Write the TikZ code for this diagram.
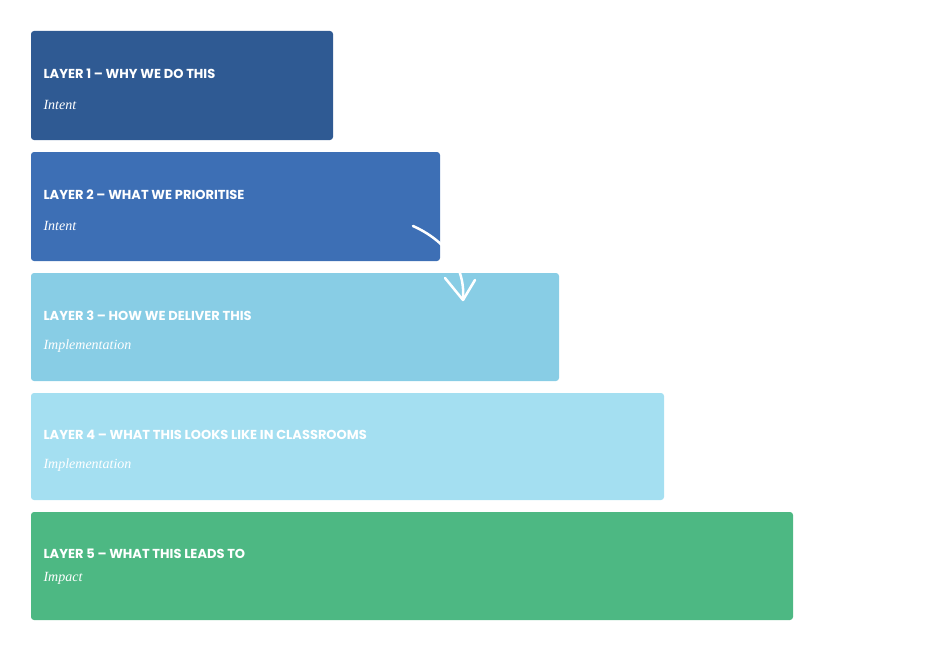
\documentclass[tikz,border=0pt]{standalone}
\usepackage{fontspec}
\setmainfont{Poppins}
\newfontfamily\subf{Liberation Serif}
\definecolor{cA}{HTML}{2F5A93}
\definecolor{cB}{HTML}{3D6FB5}
\definecolor{cC}{HTML}{88CDE5}
\definecolor{cD}{HTML}{A4DFF1}
\definecolor{cE}{HTML}{4DB883}
\begin{document}
\begin{tikzpicture}[x=1pt,y=-1pt,
 box/.style={rounded corners=3pt,draw=none},
 ttl/.style={anchor=west,text=white,font=\fontsize{13}{15}\selectfont\bfseries},
 sub/.style={anchor=west,text=white,font=\subf\itshape\fontsize{14}{16}\selectfont}]
\useasboundingbox (0,0) rectangle (938,661);
\fill[box,cA] (31,31) rectangle (333,140);
\fill[box,cB] (31,152) rectangle (440,261);
\fill[box,cC] (31,273) rectangle (559,381);
\fill[box,cD] (31,393) rectangle (664,500);
\fill[box,cE] (31,512) rectangle (793,620);
\node[ttl] (t1) at (40,74) {LAYER 1 – WHY WE DO THIS};
\node[sub] (s1) at (40,105) {Intent};
\node[ttl] (t2) at (40,195) {LAYER 2 – WHAT WE PRIORITISE};
\node[sub] (s2) at (40,226) {Intent};
\node[ttl] (t3) at (40,316) {LAYER 3 – HOW WE DELIVER THIS};
\node[sub] (s3) at (40,346) {Implementation};
\node[ttl] (t4) at (40,435) {LAYER 4 – WHAT THIS LOOKS LIKE IN CLASSROOMS};
\node[sub] (s4) at (40,465) {Implementation};
\node[ttl] (t5) at (40,554) {LAYER 5 – WHAT THIS LEADS TO};
\node[sub] (s5) at (40,578) {Impact};
\coordinate (a0) at (413,226);
\coordinate (a1) at (463,300);
\draw[white,line width=2.5pt,line cap=round] (a0) .. controls (440,238) and (466,262) .. (a1);
\draw[white,line width=2.5pt,line cap=round,line join=round] (445,278) -- (a1) -- (475,280);
\end{tikzpicture}
\end{document}
